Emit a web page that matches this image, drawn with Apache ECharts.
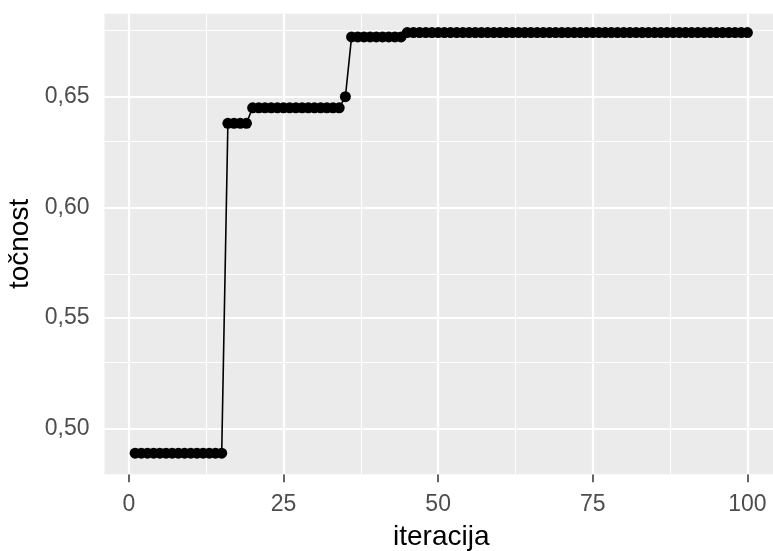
<!DOCTYPE html>
<html><head><meta charset="utf-8">
<script src="https://cdn.jsdelivr.net/npm/echarts@6/dist/echarts.min.js"></script>
<style>html,body{margin:0;padding:0;background:#fff}#c{width:773px;height:551px}</style>
</head><body><div id="c"></div>
<script>
// Data
const iterations = [1,2,3,4,5,6,7,8,9,10,11,12,13,14,15,16,17,18,19,20,
  21,22,23,24,25,26,27,28,29,30,31,32,33,34,35,36,37,38,39,40,
  41,42,43,44,45,46,47,48,49,50,51,52,53,54,55,56,57,58,59,60,
  61,62,63,64,65,66,67,68,69,70,71,72,73,74,75,76,77,78,79,80,
  81,82,83,84,85,86,87,88,89,90,91,92,93,94,95,96,97,98,99,100];
const accuracy = [
  0.489,0.489,0.489,0.489,0.489,0.489,0.489,0.489,0.489,0.489,
  0.489,0.489,0.489,0.489,0.489,0.638,0.638,0.638,0.638,0.645,
  0.645,0.645,0.645,0.645,0.645,0.645,0.645,0.645,0.645,0.645,
  0.645,0.645,0.645,0.645,0.650,0.677,0.677,0.677,0.677,0.677,
  0.677,0.677,0.677,0.677,0.679,0.679,0.679,0.679,0.679,0.679,
  0.679,0.679,0.679,0.679,0.679,0.679,0.679,0.679,0.679,0.679,
  0.679,0.679,0.679,0.679,0.679,0.679,0.679,0.679,0.679,0.679,
  0.679,0.679,0.679,0.679,0.679,0.679,0.679,0.679,0.679,0.679,
  0.679,0.679,0.679,0.679,0.679,0.679,0.679,0.679,0.679,0.679,
  0.679,0.679,0.679,0.679,0.679,0.679,0.679,0.679,0.679,0.679];
const xTicks = [0, 25, 50, 75, 100];
const xMinor = [12.5, 37.5, 62.5, 87.5];
const yTicks = [0.50, 0.55, 0.60, 0.65];
const yMinor = [0.525, 0.575, 0.625, 0.675];
const xTitle = 'iteracija';
const yTitle = 'točnost';

const pts = iterations.map((x, i) => [x, accuracy[i]]);
const FONT = '"Liberation Sans", Arial, sans-serif';
const chart = echarts.init(document.getElementById('c'), null, {renderer: 'canvas'});

function vline(v, w) { return {xAxis: v, lineStyle: {color: '#fff', width: w, type: 'solid'}}; }
function hline(v, w) { return {yAxis: v, lineStyle: {color: '#fff', width: w, type: 'solid'}}; }

chart.setOption({
  animation: false,
  backgroundColor: '#fff',
  grid: {left: 104.5, top: 13.7, width: 673.5, height: 460.5, show: true,
         backgroundColor: '#EBEBEB', borderWidth: 0, containLabel: false,
         outerBoundsMode: 'none'},
  xAxis: {
    type: 'value', min: -3.95, max: 104.95,
    name: xTitle, nameLocation: 'middle', nameGap: 49,
    nameTextStyle: {color: '#000', fontSize: 28, fontFamily: FONT},
    axisLine: {show: false},
    axisTick: {show: true, length: 8, customValues: xTicks, lineStyle: {color: '#333', width: 1.5}},
    axisLabel: {customValues: xTicks, margin: 19, color: '#4D4D4D', fontSize: 23, fontFamily: FONT},
    splitLine: {show: false}
  },
  yAxis: {
    type: 'value', min: 0.4795, max: 0.6875,
    name: yTitle, nameLocation: 'middle', nameGap: 68, nameRotate: 90,
    nameTextStyle: {color: '#000', fontSize: 28, fontFamily: FONT},
    axisLine: {show: false},
    axisTick: {show: true, length: 7, customValues: yTicks, lineStyle: {color: '#333', width: 1.5}},
    axisLabel: {customValues: yTicks, margin: 15, color: '#4D4D4D', fontSize: 23, fontFamily: FONT,
      formatter: v => v.toFixed(2).replace('.', ',')},
    splitLine: {show: false}
  },
  series: [
    {
      type: 'line', data: [], silent: true,
      markLine: {
        silent: true, symbol: 'none', label: {show: false}, animation: false,
        data: [].concat(
          xMinor.map(v => vline(v, 1.1)), yMinor.map(v => hline(v, 1.1)),
          xTicks.map(v => vline(v, 2.2)), yTicks.map(v => hline(v, 2.2)))
      }
    },
    {
      type: 'line', data: pts, symbol: 'circle', symbolSize: 11, showSymbol: true,
      lineStyle: {color: '#000', width: 1.6}, itemStyle: {color: '#000'}, z: 5
    }
  ]
});
</script></body></html>
